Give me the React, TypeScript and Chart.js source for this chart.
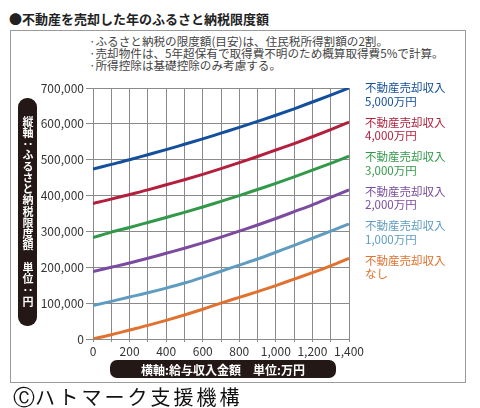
import React, { useEffect, useRef } from "react";
import { Chart, registerables } from "chart.js";

Chart.register(...registerables);

const FONT = "'Noto Sans CJK JP', 'Noto Sans', sans-serif";

const salaryX = [0, 100, 200, 300, 400, 500, 600, 700, 800, 900, 1000, 1100, 1200, 1300, 1400];

const sale5000 = [474000, 487000, 500000, 514000, 528000, 543000, 558000, 574000, 590000, 607000, 624000, 642000, 661000, 680000, 700000];
const sale4000 = [378000, 390000, 403000, 416000, 430000, 444000, 459000, 475000, 492000, 509000, 527000, 545000, 564000, 584000, 605000];
const sale3000 = [283000, 298000, 311000, 325000, 339000, 353000, 368000, 384000, 400000, 417000, 434000, 452000, 471000, 490000, 510000];
const sale2000 = [188000, 200000, 212000, 225000, 239000, 253000, 268000, 284000, 301000, 318000, 336000, 355000, 374000, 395000, 416000];
const sale1000 = [93000, 105000, 117000, 129000, 142000, 156000, 172000, 189000, 206000, 223000, 242000, 261000, 281000, 301000, 321000];
const saleNone = [0, 12000, 25000, 38000, 52000, 67000, 83000, 100000, 116000, 132000, 149000, 167000, 185000, 204000, 225000];

const seriesValues = [sale5000, sale4000, sale3000, sale2000, sale1000, saleNone];
const seriesLine1 = ["不動産売却収入", "不動産売却収入", "不動産売却収入", "不動産売却収入", "不動産売却収入", "不動産売却収入"];
const seriesLine2 = ["5,000万円", "4,000万円", "3,000万円", "2,000万円", "1,000万円", "なし"];
const seriesColors = ["#134f9c", "#b3203d", "#33994a", "#7a4b9f", "#5f9cbf", "#e0712f"];

const yTicks = [0, 100000, 200000, 300000, 400000, 500000, 600000, 700000];

const noteLines = [
  "·ふるさと納税の限度額(目安)は、住民税所得割額の2割。",
  "·売却物件は、5年超保有で取得費不明のため概算取得費5%で計算。",
  "·所得控除は基礎控除のみ考慮する。",
];

const endLabelPlugin = {
  id: "endLabels",
  afterDatasetsDraw(chart: any) {
    const ctx = chart.ctx;
    ctx.save();
    ctx.font = `11.5px ${FONT}`;
    ctx.textBaseline = "middle";
    ctx.textAlign = "left";
    let prev = -1000;
    chart.data.datasets.forEach((ds: any, i: number) => {
      const meta = chart.getDatasetMeta(i);
      const pt = meta.data[meta.data.length - 1];
      let y = Math.max(pt.y, prev + 34.5);
      prev = y;
      ctx.fillStyle = seriesColors[i];
      ctx.fillText(seriesLine1[i], 365, y);
      ctx.fillText(seriesLine2[i], 365, y + 13.5);
    });
    ctx.restore();
  },
};

function LineChart() {
  const ref = useRef<HTMLCanvasElement | null>(null);
  useEffect(() => {
    if (!ref.current) return;
    const chart = new Chart(ref.current, {
      type: "line",
      data: {
        datasets: seriesValues.map((vals, i) => ({
          label: seriesLine1[i] + seriesLine2[i],
          data: vals.map((v, j) => ({ x: salaryX[j], y: v })),
          borderColor: seriesColors[i],
          backgroundColor: seriesColors[i],
          borderWidth: 3,
          pointRadius: 0,
          cubicInterpolationMode: "monotone" as const,
          fill: false,
        })),
      },
      options: {
        animation: false,
        responsive: false,
        maintainAspectRatio: false,
        layout: { padding: { left: 20, top: 88, right: 131, bottom: 49 } },
        plugins: { legend: { display: false }, tooltip: { enabled: false } },
        scales: {
          x: {
            type: "linear",
            min: 0,
            max: 1400,
            afterFit: (s: any) => { s.height = 20; },
            afterBuildTicks: (s: any) => {
              s.ticks = salaryX.map((v) => ({ value: v }));
            },
            ticks: {
              autoSkip: false,
              maxRotation: 0,
              padding: 2,
              color: "#333",
              font: { family: FONT, size: 12 },
              callback: (v: any) => (Number(v) % 200 === 0 ? Number(v).toLocaleString("en-US") : ""),
            },
            grid: { color: "#8a8a8a", lineWidth: 1, tickLength: 3 },
            border: { color: "#8a8a8a", width: 1 },
          },
          y: {
            type: "linear",
            min: 0,
            max: 700000,
            afterFit: (s: any) => { s.width = 73; },
            afterBuildTicks: (s: any) => {
              s.ticks = yTicks.map((v) => ({ value: v }));
            },
            ticks: {
              padding: 2,
              color: "#333",
              font: { family: FONT, size: 12 },
              callback: (v: any) => Number(v).toLocaleString("en-US"),
            },
            grid: { color: "#8a8a8a", lineWidth: 1, tickLength: 7 },
            border: { color: "#8a8a8a", width: 1 },
          },
        },
      },
      plugins: [endLabelPlugin],
    } as any);
    return () => chart.destroy();
  }, []);
  return <canvas ref={ref} width={480} height={408} style={{ position: "absolute", left: 0, top: 0, width: 480, height: 408 }} />;
}

export default function App() {
  return (
    <div style={{ position: "absolute", left: 0, top: 0, width: 480, height: 408, background: "#fff", fontFamily: FONT, overflow: "hidden" }}>
      <div style={{ position: "absolute", left: 10, top: 30, width: 454, height: 351, border: "1.5px solid #9a9a9a" }} />
      <div style={{ position: "absolute", left: 9, top: 10, fontSize: 13, fontWeight: 700, color: "#222", lineHeight: "18px", whiteSpace: "nowrap" }}>
        ●不動産を売却した年のふるさと納税限度額
      </div>
      <div style={{ position: "absolute", left: 89, top: 35, fontSize: 11.6, color: "#444", lineHeight: "12px", whiteSpace: "nowrap" }}>
        {noteLines.map((t, i) => (
          <div key={i}>{t}</div>
        ))}
      </div>
      <LineChart />
      <div
        style={{
          position: "absolute",
          left: 18,
          top: 98,
          width: 19,
          height: 228,
          background: "#231815",
          borderRadius: 9,
          color: "#fff",
          writingMode: "vertical-rl",
          textOrientation: "upright",
          fontSize: 11,
          fontWeight: 700,
          letterSpacing: 0.25,
          display: "flex",
          alignItems: "center",
          justifyContent: "center",
          lineHeight: "19px",
        }}
      >
        縦軸：ふるさと納税限度額　単位：円
      </div>
      <div
        style={{
          position: "absolute",
          left: 110,
          top: 360,
          width: 226,
          height: 18,
          background: "#231815",
          borderRadius: 7,
          color: "#fff",
          fontSize: 12,
          fontWeight: 700,
          display: "flex",
          alignItems: "center",
          justifyContent: "center",
          whiteSpace: "nowrap",
        }}
      >
        横軸:給与収入金額　単位:万円
      </div>
      <div style={{ position: "absolute", left: 13, top: 385, fontSize: 20, color: "#111", letterSpacing: 3, lineHeight: "24px", whiteSpace: "nowrap" }}>
        <span style={{ fontFamily: "'DejaVu Sans', sans-serif", fontSize: 22, letterSpacing: 0 }}>Ⓒ</span>ハトマーク支援機構
      </div>
    </div>
  );
}
